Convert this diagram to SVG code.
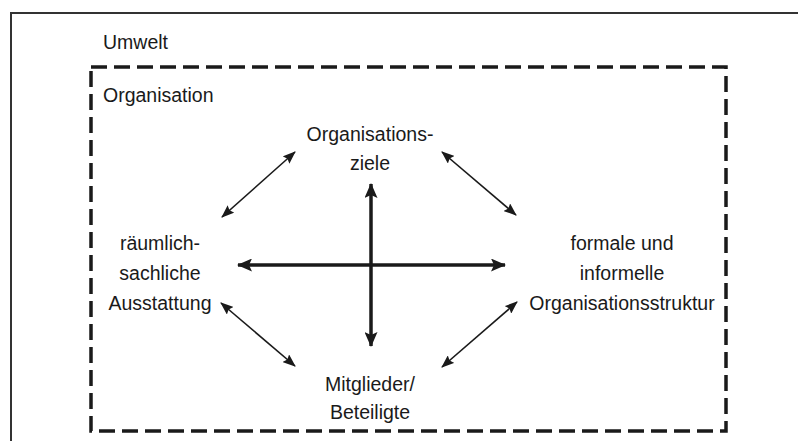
<svg xmlns="http://www.w3.org/2000/svg" width="798" height="441" viewBox="0 0 798 441">
<defs>
<style>
.t{font-family:"Liberation Sans",Arial,sans-serif;font-size:19.5px;fill:#1a1a1a}
.c{text-anchor:middle}
.thick{stroke:#1a1a1a;stroke-width:3.5;fill:none}
.thin{stroke:#1a1a1a;stroke-width:1.6;fill:none}
</style>
<marker id="ah" markerUnits="userSpaceOnUse" markerWidth="15" markerHeight="13" refX="14" refY="6.5" orient="auto-start-reverse">
<path d="M0,0 L15,6.5 L0,13 L3,6.5 z" fill="#1a1a1a"/>
</marker>
<marker id="as" markerUnits="userSpaceOnUse" markerWidth="13" markerHeight="10" refX="12" refY="5" orient="auto-start-reverse">
<path d="M0,0 L13,5 L0,10 L2,5 z" fill="#1a1a1a"/>
</marker>
</defs>
<rect width="798" height="441" fill="#fff"/>
<g id="umwelt">
<path d="M11,441 V13 H798" fill="none" stroke="#333" stroke-width="2"/>
<text class="t" x="103" y="49">Umwelt</text>
</g>
<g id="organisation">
<rect x="91" y="67" width="635" height="364" fill="none" stroke="#1a1a1a" stroke-width="3.5" stroke-dasharray="16 7"/>
<text class="t" x="103" y="102">Organisation</text>
</g>
<g id="ziele">
<text class="t c" x="370" y="141">Organisations-</text>
<text class="t c" x="370" y="170">ziele</text>
</g>
<g id="ausstattung">
<text class="t c" x="160" y="250">räumlich-</text>
<text class="t c" x="160" y="280">sachliche</text>
<text class="t c" x="160" y="310">Ausstattung</text>
</g>
<g id="struktur">
<text class="t c" x="622" y="250">formale und</text>
<text class="t c" x="622" y="280">informelle</text>
<text class="t c" x="622" y="310">Organisationsstruktur</text>
</g>
<g id="mitglieder">
<text class="t c" x="370" y="391">Mitglieder/</text>
<text class="t c" x="370" y="419">Beteiligte</text>
</g>
<g id="connectors">
<line class="thick" x1="371" y1="184" x2="371" y2="346" marker-start="url(#ah)" marker-end="url(#ah)"/>
<line class="thick" x1="238" y1="265" x2="505" y2="265" marker-start="url(#ah)" marker-end="url(#ah)"/>
<line class="thin" x1="222" y1="217" x2="295" y2="152" marker-start="url(#as)" marker-end="url(#as)"/>
<line class="thin" x1="442" y1="152" x2="516" y2="215" marker-start="url(#as)" marker-end="url(#as)"/>
<line class="thin" x1="221" y1="303" x2="295" y2="366" marker-start="url(#as)" marker-end="url(#as)"/>
<line class="thin" x1="517" y1="302" x2="442" y2="367" marker-start="url(#as)" marker-end="url(#as)"/>
</g>
</svg>
